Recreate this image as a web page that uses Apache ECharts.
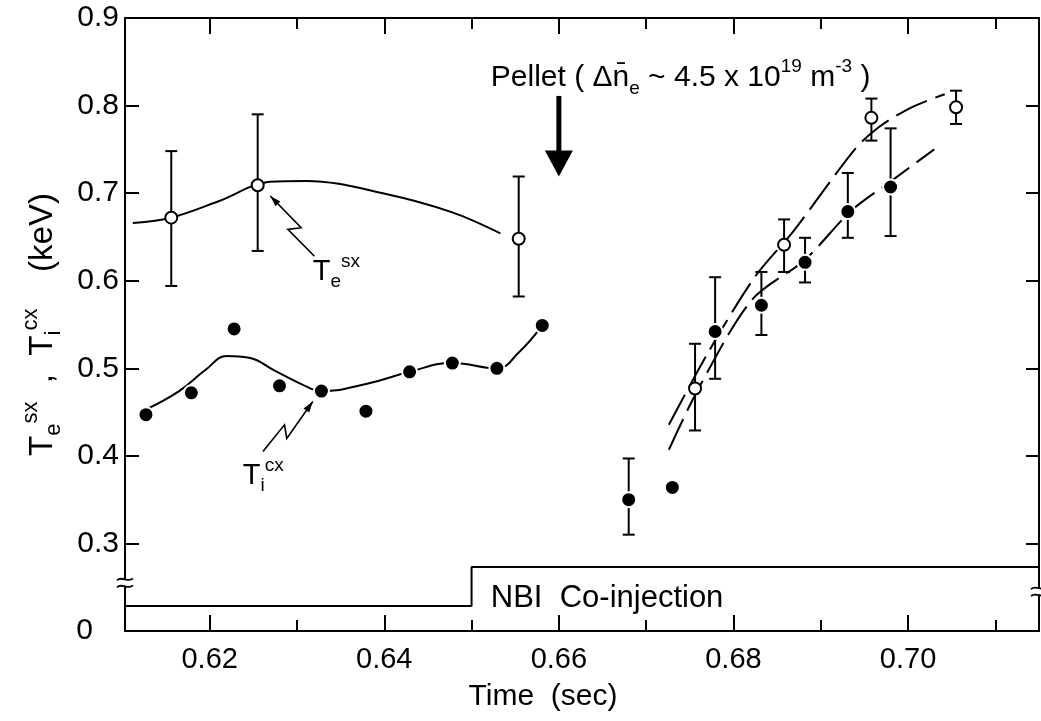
<!DOCTYPE html>
<html>
<head>
<meta charset="utf-8">
<script src="https://cdn.jsdelivr.net/npm/echarts@6/dist/echarts.min.js"></script>
<style>
html,body{margin:0;padding:0;background:#fff;}
#chart{width:1041px;height:721px;}
</style>
</head>
<body>
<div id="chart"></div>
<script>
// ---- axis ranges / ticks ----
const xMin = 0.6103, xMax = 0.715;
const yMin = 0.2, yMax = 0.9;
const xMajorTicks = [0.62, 0.64, 0.66, 0.68, 0.70];
const xMinorTicks = [0.63, 0.65, 0.67, 0.69, 0.71];

// ---- T_e^sx (open circles) ----
const teTime    = [0.6156, 0.6255, 0.6554, 0.6756, 0.6858, 0.6958, 0.7055];
const teValue   = [0.672, 0.709, 0.648, 0.477, 0.641, 0.786, 0.798];
const teErrLow  = [0.594, 0.634, 0.582, 0.429, 0.610, 0.760, 0.779];
const teErrHigh = [0.748, 0.790, 0.719, 0.528, 0.670, 0.808, 0.817];

// ---- T_i^cx (filled circles) ----
const tiTime    = [0.6127, 0.6179, 0.6228, 0.6280, 0.6328, 0.6379, 0.6429, 0.6478, 0.6529, 0.6581, 0.6680, 0.6730, 0.6779, 0.6832, 0.6882, 0.6931, 0.6980];
const tiValue   = [0.447, 0.472, 0.545, 0.480, 0.474, 0.451, 0.496, 0.506, 0.500, 0.549, 0.350, 0.364, 0.542, 0.572, 0.621, 0.679, 0.707];
const tiErrLow  = [null, null, null, null, null, null, null, null, null, null, 0.310, null, 0.488, 0.538, 0.598, 0.649, 0.651];
const tiErrHigh = [null, null, null, null, null, null, null, null, null, null, 0.397, null, 0.604, 0.610, 0.649, 0.723, 0.774];

// ---- hand-drawn fit curves ----
const teFitPreTime   = [0.6112, 0.6156, 0.6211, 0.6269, 0.6311, 0.6402, 0.6478, 0.6533];
const teFitPreValue  = [0.666, 0.672, 0.691, 0.713, 0.714, 0.699, 0.678, 0.654];
const tiFitPreTime   = [0.6127, 0.6165, 0.6195, 0.6220, 0.6245, 0.6275, 0.6305, 0.6328, 0.6379, 0.6429, 0.6478, 0.6529, 0.6554, 0.6581];
const tiFitPreValue  = [0.453, 0.474, 0.498, 0.514, 0.512, 0.497, 0.482, 0.474, 0.482, 0.496, 0.506, 0.500, 0.518, 0.549];
const teFitPostTime  = [0.6726, 0.6771, 0.6825, 0.6869, 0.6939, 0.6966, 0.7004, 0.7042];
const teFitPostValue = [0.4355, 0.518, 0.605, 0.657, 0.750, 0.775, 0.798, 0.813];
const tiFitPostTime  = [0.6726, 0.6760, 0.6821, 0.6882, 0.6935, 0.6981, 0.7030];
const tiFitPostValue = [0.407, 0.477, 0.578, 0.624, 0.680, 0.714, 0.750];

// ---- NBI co-injection indicator ----
const nbiTime  = [0.6103, 0.650, 0.650, 0.715];
const nbiLevel = [0.2286, 0.2286, 0.273, 0.273];

// ---- annotations (data coordinates) ----
const pelletTime = 0.66, pelletArrowTop = 0.811, pelletArrowTip = 0.719;
const pelletLabelAt = [0.6522, 0.8314];
const nbiLabelAt = [0.6522, 0.2375];
const teLabelAt = [0.6318, 0.610];
const tiLabelAt = [0.6238, 0.377];
const teBolt = [[0.6320, 0.628], [0.62895, 0.6586], [0.63048, 0.6605], [0.62694, 0.6967]];
const tiBolt = [[0.62610, 0.405], [0.62857, 0.4355], [0.62883, 0.420], [0.63181, 0.462]];

const NARROW = "'Liberation Sans Narrow', 'Liberation Sans', sans-serif";
const SANS = "'Liberation Sans', 'DejaVu Sans', sans-serif";
const BLACK = '#000';

function pairs(xs, ys) { return xs.map((x, i) => [x, ys[i]]); }
function errData(xs, lo, hi) {
  const out = [];
  xs.forEach((x, i) => { if (lo[i] != null) out.push([x, lo[i], hi[i]]); });
  return out;
}
function errRender(params, api) {
  const x = api.value(0), lo = api.value(1), hi = api.value(2);
  const a = api.coord([x, lo]), b = api.coord([x, hi]);
  const w = 6;
  const st = { stroke: BLACK, lineWidth: 2 };
  return { type: 'group', children: [
    { type: 'line', shape: { x1: a[0], y1: a[1], x2: b[0], y2: b[1] }, style: st },
    { type: 'line', shape: { x1: a[0] - w, y1: a[1], x2: a[0] + w, y2: a[1] }, style: st },
    { type: 'line', shape: { x1: b[0] - w, y1: b[1], x2: b[0] + w, y2: b[1] }, style: st }
  ]};
}

const supSubRich = (base, sup, sub) => ({
  b:   { fontFamily: NARROW, fontSize: base, lineHeight: Math.round(base * 1.35), color: BLACK },
  sup: { fontFamily: NARROW, fontSize: sup, lineHeight: sup + 1, verticalAlign: 'top', color: BLACK },
  sub: { fontFamily: NARROW, fontSize: sub, lineHeight: sub + 1, verticalAlign: 'bottom', color: BLACK }
});

const axisLineStyle = { color: BLACK, width: 2 };

const chart = echarts.init(document.getElementById('chart'), null, { renderer: 'canvas' });

const option = {
  backgroundColor: '#fff',
  animation: false,
  grid: { left: 125, right: 2, top: 18, bottom: 90, containLabel: false },
  xAxis: [
    { type: 'value', min: xMin, max: xMax, position: 'bottom',
      axisLine: { show: true, onZero: false, lineStyle: axisLineStyle },
      axisTick: { show: true, inside: true, length: 16, lineStyle: { color: BLACK, width: 2 }, customValues: xMajorTicks },
      axisLabel: { show: true, customValues: xMajorTicks, formatter: v => v.toFixed(2), margin: 14,
                   fontFamily: NARROW, fontSize: 29, color: BLACK },
      splitLine: { show: false },
      name: 'Time  (sec)', nameLocation: 'middle', nameGap: 51,
      nameTextStyle: { fontFamily: NARROW, fontSize: 30, color: BLACK, padding: [0, 78, 0, 0] } },
    { type: 'value', min: xMin, max: xMax, position: 'bottom',
      axisLine: { show: false },
      axisTick: { show: true, inside: true, length: 11, lineStyle: { color: BLACK, width: 2 }, customValues: xMinorTicks },
      axisLabel: { show: false }, splitLine: { show: false } },
    { type: 'value', min: xMin, max: xMax, position: 'top',
      axisLine: { show: true, onZero: false, lineStyle: axisLineStyle },
      axisTick: { show: true, inside: true, length: 16, lineStyle: { color: BLACK, width: 2 }, customValues: xMajorTicks },
      axisLabel: { show: false }, splitLine: { show: false } },
    { type: 'value', min: xMin, max: xMax, position: 'top',
      axisLine: { show: false },
      axisTick: { show: true, inside: true, length: 11, lineStyle: { color: BLACK, width: 2 }, customValues: xMinorTicks },
      axisLabel: { show: false }, splitLine: { show: false } }
  ],
  yAxis: [
    { type: 'value', min: yMin, max: yMax, interval: 0.1, position: 'left',
      axisLine: { show: true, onZero: false, lineStyle: axisLineStyle },
      axisTick: { show: true, inside: true, length: 14, lineStyle: { color: BLACK, width: 2 } },
      axisLabel: { margin: 6, fontFamily: SANS, fontSize: 30, color: BLACK,
                   formatter: v => v < 0.25 ? '{z|0}' : v.toFixed(1),
                   rich: { z: { fontFamily: SANS, fontSize: 30, color: BLACK, padding: [0, 26, 0, 0] } } },
      splitLine: { show: false },
      name: '{b|T}{sub|e}{sup|sx}{b|  ,  T}{sub|i}{sup|cx}{b|    (keV)}',
      nameLocation: 'middle', nameRotate: 90, nameGap: 48,
      nameTextStyle: { rich: supSubRich(33, 22, 22) } },
    { type: 'value', min: yMin, max: yMax, interval: 0.1, position: 'right',
      axisLine: { show: true, onZero: false, lineStyle: axisLineStyle },
      axisTick: { show: true, inside: true, length: 13, lineStyle: { color: BLACK, width: 2 } },
      axisLabel: { show: false }, splitLine: { show: false } }
  ],
  series: [
    { name: 'NBI', type: 'line', data: pairs(nbiTime, nbiLevel), symbol: 'none',
      lineStyle: { color: BLACK, width: 2 }, z: 2, silent: true },
    { name: 'Te fit (pre)', type: 'line', data: pairs(teFitPreTime, teFitPreValue), symbol: 'none', smooth: 0.35,
      lineStyle: { color: BLACK, width: 2 }, z: 2 },
    { name: 'Ti fit (pre)', type: 'line', data: pairs(tiFitPreTime, tiFitPreValue), symbol: 'none', smooth: 0.45,
      lineStyle: { color: BLACK, width: 2 }, z: 2 },
    { name: 'Te fit (post)', type: 'line', data: pairs(teFitPostTime, teFitPostValue), symbol: 'none', smooth: 0.3,
      lineStyle: { color: BLACK, width: 2, type: [34, 9] }, z: 2 },
    { name: 'Ti fit (post)', type: 'line', data: pairs(tiFitPostTime, tiFitPostValue), symbol: 'none', smooth: 0.3,
      lineStyle: { color: BLACK, width: 2, type: [34, 9] }, z: 2 },
    { name: 'Te err', type: 'custom', renderItem: errRender, data: errData(teTime, teErrLow, teErrHigh), z: 3 },
    { name: 'Ti err', type: 'custom', renderItem: errRender, data: errData(tiTime, tiErrLow, tiErrHigh), z: 3 },
    { name: 'Te sx', type: 'scatter', data: pairs(teTime, teValue), symbol: 'circle', symbolSize: 12,
      itemStyle: { color: '#fff', borderColor: BLACK, borderWidth: 2, opacity: 1 }, z: 4 },
    { name: 'Ti cx', type: 'scatter', data: pairs(tiTime, tiValue), symbol: 'circle', symbolSize: 15,
      itemStyle: { color: BLACK, borderColor: '#fff', borderWidth: 2, opacity: 1 }, z: 4 }
  ]
};
chart.setOption(option);

// ---- annotations placed via the chart's own coordinate conversion ----
const px = p => chart.convertToPixel({ xAxisIndex: 0, yAxisIndex: 0 }, p);
const g = [];

// pellet arrow
const aTop = px([pelletTime, pelletArrowTop]);
const aTip = px([pelletTime, pelletArrowTip]);
g.push({ type: 'rect', shape: { x: aTop[0] - 2.5, y: aTop[1], width: 5, height: aTip[1] - aTop[1] - 20 },
         style: { fill: BLACK }, z: 10 });
g.push({ type: 'polygon', shape: { points: [[aTip[0] - 14, aTip[1] - 26], [aTip[0] + 14, aTip[1] - 26], [aTip[0], aTip[1]]] },
         style: { fill: BLACK }, z: 10 });

// pellet label
const pl = px(pelletLabelAt);
g.push({ type: 'text', x: pl[0], y: pl[1], z: 10,
  style: { text: '{b|Pellet ( \u0394n\u0304}{sub|e}{b| ~ 4.5 x 10}{sup|19}{b| m}{sup|-3}{b| )}',
           rich: supSubRich(30, 19, 19), verticalAlign: 'middle', align: 'left' } });

// NBI label
const nl = px(nbiLabelAt);
g.push({ type: 'text', x: nl[0], y: nl[1], z: 10,
  style: { text: 'NBI  Co-injection', fontFamily: NARROW, fontSize: 31, fill: BLACK, verticalAlign: 'middle', align: 'left' } });

// Te / Ti labels
const tl = px(teLabelAt);
g.push({ type: 'text', x: tl[0], y: tl[1], z: 10,
  style: { text: '{b|T}{sub|e}{sup|sx}', rich: supSubRich(29, 19, 19), verticalAlign: 'middle', align: 'left' } });
const il = px(tiLabelAt);
g.push({ type: 'text', x: il[0], y: il[1], z: 10,
  style: { text: '{b|T}{sub|i}{sup|cx}', rich: supSubRich(29, 19, 19), verticalAlign: 'middle', align: 'left' } });

// lightning arrows
function bolt(pts) {
  const p = pts.map(px);
  g.push({ type: 'polyline', shape: { points: p }, style: { stroke: BLACK, lineWidth: 1.6, fill: null }, z: 10 });
  const a = p[p.length - 2], b = p[p.length - 1];
  const dx = b[0] - a[0], dy = b[1] - a[1], L = Math.hypot(dx, dy);
  const ux = dx / L, uy = dy / L, nx = -uy, ny = ux;
  const hl = 11, hw = 3.5;
  g.push({ type: 'polygon', shape: { points: [b, [b[0] - ux * hl + nx * hw, b[1] - uy * hl + ny * hw], [b[0] - ux * hl - nx * hw, b[1] - uy * hl - ny * hw]] },
           style: { fill: BLACK }, z: 10 });
}
bolt(teBolt);
bolt(tiBolt);

// axis-break marks on left and right axes
function breakMark(xv, yv) {
  const p = px([xv, yv]);
  const x0 = p[0], y0 = p[1];
  g.push({ type: 'rect', shape: { x: x0 - 3, y: y0 - 3, width: 6, height: 6 }, style: { fill: '#fff' }, z: 11 });
  [-3.5, 3.5].forEach(off => {
    g.push({ type: 'bezierCurve', shape: { x1: x0 - 8, y1: y0 + off + 1, cpx1: x0 - 3, cpy1: y0 + off - 4, cpx2: x0 + 3, cpy2: y0 + off + 4, x2: x0 + 8, y2: y0 + off - 1 },
             style: { stroke: BLACK, lineWidth: 1.8, fill: null }, z: 12 });
  });
}
breakMark(xMin, 0.255);
breakMark(xMax, 0.245);

chart.setOption({ graphic: g });
</script>
</body>
</html>
